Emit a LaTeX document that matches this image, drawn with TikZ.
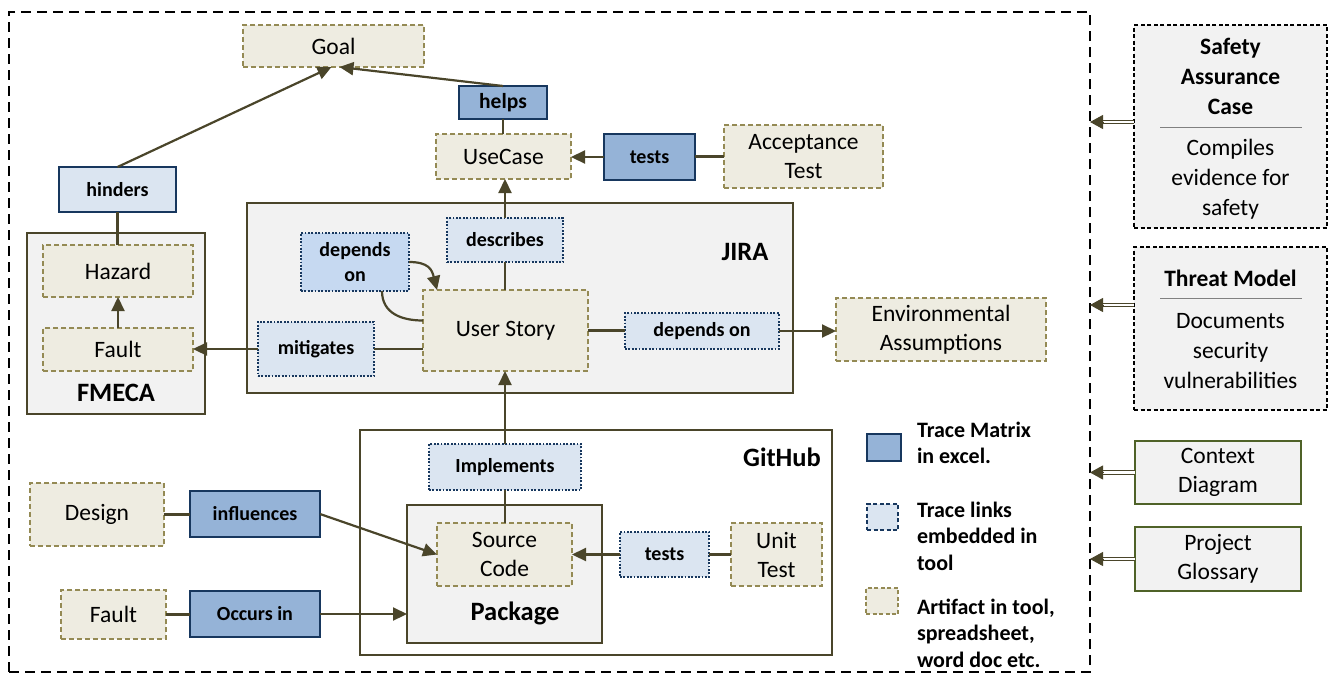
\documentclass[tikz,border=0pt]{standalone}
\usepackage{fontspec}
\setmainfont{Carlito}
\usetikzlibrary{arrows.meta}
\definecolor{olv}{RGB}{74,69,42}
\definecolor{artfill}{HTML}{EEECE1}
\definecolor{artdraw}{HTML}{948A54}
\definecolor{lblue}{HTML}{DBE5F1}
\definecolor{mblue}{HTML}{95B3D7}
\definecolor{dblue}{HTML}{C6D9F1}
\definecolor{navy}{HTML}{17375E}
\definecolor{cgrey}{HTML}{F2F2F2}
\definecolor{grn}{HTML}{4F6228}
\newcommand{\fN}{\fontsize{23.5}{29}\selectfont}
\newcommand{\fB}{\fontsize{20}{24.5}\selectfont\bfseries}
\newcommand{\fH}{\fontsize{26.5}{30}\selectfont\bfseries}
\newcommand{\fL}{\fontsize{22}{26.5}\selectfont\bfseries}
\newcommand{\fR}{\fontsize{23.5}{30}\selectfont}
\begin{document}
\begin{tikzpicture}[x=1pt,y=-1pt,
  every node/.style={inner sep=0pt, outer sep=0pt},
  sz/.style 2 args={minimum width=#1pt, minimum height=#2pt},
  art/.style={draw=artdraw, fill=artfill, line width=1.6pt, dash pattern=on 5pt off 3pt, font=\fN, align=center},
  emb/.style={draw=navy, fill=lblue, line width=1.8pt, dash pattern=on 1.8pt off 1.6pt, font=\fB, align=center},
  mat/.style={draw=navy, fill=mblue, line width=2.6pt, font=\fB, align=center},
  cont/.style={draw=olv, fill=cgrey, line width=1.5pt},
  ext/.style={draw=black, fill=cgrey, line width=1.5pt, dash pattern=on 4pt off 2.5pt},
  ctx/.style={draw=grn, fill=cgrey, line width=2pt, font=\fN, align=center},
  arr/.style={draw=olv, line width=2.2pt, -{Triangle[length=14pt,width=13pt]}},
  lnk/.style={draw=olv, line width=2.2pt},
  dbl/.style={draw=olv, line width=1.3pt, double=white, double distance=2.2pt},
  dbltip/.style={draw=olv, line width=1pt, -{Triangle[length=13pt,width=14pt]}},
  head/.style={font=\fH},
]
\useasboundingbox (0,0) rectangle (1328,675);

% outer dashed frame
\node[draw=black, line width=2pt, dash pattern=on 10pt off 6pt, sz={1081}{660}] (outer) at (549.5,342) {};

% containers
\node[cont, sz={178}{181}] (fmeca) at (116,323.5) {};
\node[head] (fmecal) at (116,393) {FMECA};
\node[cont, sz={546}{190}] (jira) at (520,298) {};
\node[head] (jiral) at (745,252) {JIRA};
\node[draw=olv, fill=white, line width=1.5pt, sz={472}{225}] (github) at (596,542.5) {};
\node[head] (githubl) at (782,457) {GitHub};
\node[cont, sz={195}{138}] (package) at (504.5,574) {};
\node[head] (packagel) at (515,613) {Package};

% artifacts
\node[art, sz={181}{42}] (goal) at (333.5,46) {Goal};
\node[art, sz={135}{45}] (usecase) at (503.5,156.5) {UseCase};
\node[art, sz={159}{63}] (acctest) at (803.5,156.5) {Acceptance\\Test};
\node[art, sz={150}{52}] (hazard) at (118,271) {Hazard};
\node[art, sz={150}{43}] (faultf) at (118,349.5) {Fault};
\node[art, sz={165}{81}] (userstory) at (505.5,330.5) {User Story};
\node[art, sz={210}{63}] (envass) at (941,329.5) {Environmental\\Assumptions};
\node[art, sz={135}{63}] (source) at (504.5,554.5) {Source\\Code};
\node[art, sz={91}{63}] (unittest) at (776.5,554.5) {Unit\\Test};
\node[art, sz={134}{63}] (design) at (97,514.5) {Design};
\node[art, sz={105}{49}] (faultb) at (113.5,614.5) {Fault};

% trace links
\node[draw=navy, fill=lblue, line width=2.2pt, font=\fB, sz={117}{45}] (hinders) at (117.5,189.5) {hinders};
\node[draw=navy, fill=mblue, line width=1.6pt, font=\fontsize{21.5}{25}\selectfont\bfseries, sz={88}{33}] (helps) at (503,102.5) {helps};
\node[mat, sz={91}{46}] (testsa) at (649.5,157) {tests};
\node[emb, fill=dblue, sz={108}{58}] (dependsl) at (355,262) {depends\\on};
\node[emb, sz={116}{44}] (describes) at (505,240) {describes};
\node[emb, sz={116}{54}] (mitigates) at (316,349) {mitigates};
\node[emb, sz={154}{36}] (dependsr) at (702,331) {depends on};
\node[emb, sz={152}{46}] (implements) at (505,467) {Implements};
\node[emb, sz={89}{45}] (testsb) at (664.5,554.5) {tests};
\node[mat, sz={130}{46}] (influences) at (255,514) {influences};
\node[mat, sz={130}{46}] (occurs) at (255,614) {Occurs in};

% connectors
\draw[arr] (hinders.north) -- ([xshift=-2pt]goal.south);
\draw[arr] (helps.north) -- ([xshift=6pt]goal.south);
\draw[lnk] (helps.south) -- (helps.south |- usecase.north);
\draw[arr] (testsa.west) -- (testsa.west -| usecase.east);
\draw[lnk] (acctest.west) -- (acctest.west -| testsa.east);
\draw[lnk] (hinders.south) -- (hinders.south |- hazard.north);
\draw[arr] (faultf.north) -- (faultf.north |- hazard.south);
\draw[arr] (describes.north) -- (describes.north |- usecase.south);
\draw[lnk] (describes.south) -- (describes.south |- userstory.north);
\draw[arr] (dependsl.east) .. controls +(20,0) and +(-5,-20) .. ([xshift=14pt]userstory.north west);
\draw[lnk] ([xshift=27pt]dependsl.south) .. controls +(0,22) and +(-22,0) .. ([yshift=10pt]userstory.west);
\draw[lnk] (mitigates.east) -- (mitigates.east -| userstory.west);
\draw[arr] (mitigates.west) -- (mitigates.west -| faultf.east);
\draw[lnk] (userstory.east) -- (userstory.east -| dependsr.west);
\draw[arr] (dependsr.east) -- (dependsr.east -| envass.west);
\draw[arr] (implements.north) -- (implements.north |- userstory.south);
\draw[lnk] (implements.south) -- (implements.south |- source.north);
\draw[arr] (testsb.west) -- (testsb.west -| source.east);
\draw[lnk] (unittest.west) -- (unittest.west -| testsb.east);
\draw[lnk] (design.east) -- (design.east -| influences.west);
\draw[arr] (influences.east) -- (source.west);
\draw[lnk] (faultb.east) -- (faultb.east -| occurs.west);
\draw[arr] (occurs.east) -- (occurs.east -| package.west);

% right-hand documents
\node[ext, sz={193}{203}] (sac) at (1230.5,126.5) {};
\node[font=\fR\bfseries, align=center] (sact) at (1230.5,76) {Safety\\Assurance\\Case};
\node[font=\fR, align=center] (sacb) at (1230.5,179) {Compiles\\evidence for\\safety};
\draw[gray, line width=0.5pt] ([xshift=26pt]sac.west |- 0,127) coordinate (sacl1) -- ([xshift=-25pt]sac.east |- 0,127) coordinate (sacl2);
\node[ext, sz={193}{163}] (threat) at (1230.5,328.5) {};
\node[font=\fR\bfseries] (threatt) at (1230.5,278) {Threat Model};
\node[font=\fR, align=center] (threatb) at (1230.5,351) {Documents\\security\\vulnerabilities};
\draw[gray, line width=0.5pt] ([xshift=26pt]threat.west |- 0,298) -- ([xshift=-25pt]threat.east |- 0,298);
\node[ctx, sz={166}{63}] (context) at (1218,472.5) {Context\\Diagram};
\node[ctx, sz={166}{64}] (glossary) at (1218,559) {Project\\Glossary};

\coordinate (a1) at (sac.west |- 0,122);
\coordinate (a2) at (threat.west |- 0,305);
\foreach \p in {a1,a2,context.west,glossary.west}{
  \draw[dbl] (\p) -- ([xshift=11pt]\p -| outer.east);
  \draw[dbltip] ([xshift=13pt]\p -| outer.east) -- (\p -| outer.east);
}

% legend
\node[draw=navy, fill=mblue, line width=2.2pt, sz={34}{27}] (lg1) at (884,447.5) {};
\node[font=\fL, align=left, anchor=west] (lg1t) at (917,443) {Trace Matrix\\in excel.};
\node[draw=navy, fill=lblue, line width=1.8pt, dash pattern=on 4pt off 2.5pt, sz={31}{26}] (lg2) at (882.5,517) {};
\node[font=\fL, align=left, anchor=west] (lg2t) at (917,536) {Trace links\\embedded in\\tool};
\node[draw=artdraw, fill=artfill, line width=1.8pt, dash pattern=on 4pt off 2.5pt, sz={32}{26}] (lg3) at (882,601) {};
\node[font=\fL, align=left, anchor=west] (lg3t) at (917,633) {Artifact in tool,\\spreadsheet,\\word doc etc.};
\end{tikzpicture}
\end{document}
